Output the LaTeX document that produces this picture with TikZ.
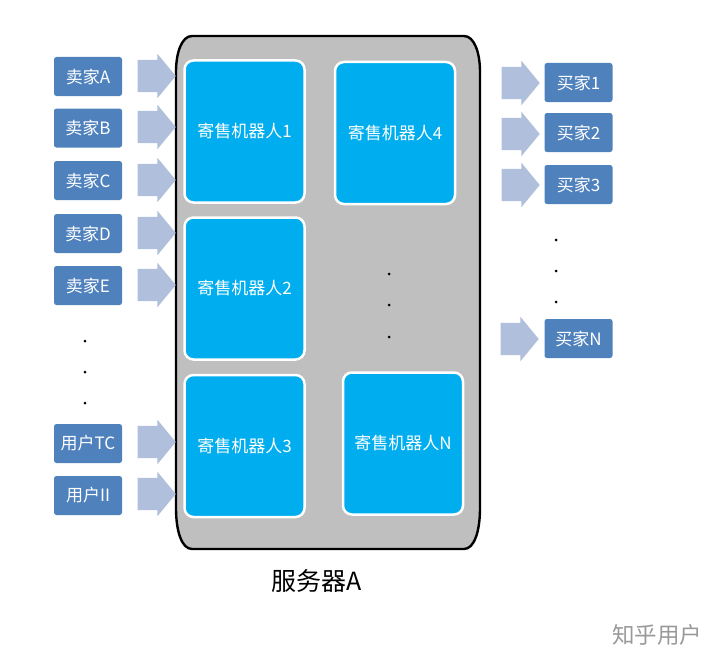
\documentclass[tikz,border=0pt]{standalone}
\usepackage{fontspec}
\setmainfont{Noto Sans CJK SC}[BoldFont={Noto Sans CJK SC}]
\usetikzlibrary{shapes.arrows}
\definecolor{userblue}{HTML}{4F81BD}
\definecolor{arrowblue}{HTML}{B0BFDB}
\definecolor{robotblue}{HTML}{00AEEF}
\definecolor{servergrey}{HTML}{BFBFBF}
\tikzset{
  x=1pt,y=-1pt,
  userbox/.style={draw=none,fill=userblue,rounded corners=2.5pt,minimum width=68pt,minimum height=39pt,inner sep=0pt,text=white,font=\fontsize{17}{20}\selectfont},
  blockarrow/.style={single arrow,draw=none,fill=arrowblue,minimum width=44pt,minimum height=38pt,inner xsep=0pt,inner ysep=16pt,single arrow head extend=6pt,single arrow tip angle=101,anchor=tip},
  robotbox/.style={draw=white,line width=2.5pt,fill=robotblue,rounded corners=9pt,minimum width=120pt,minimum height=142pt,inner sep=0pt,text=white,font=\fontsize{17}{20}\selectfont},
  dotnode/.style={circle,fill=black,inner sep=0pt,minimum size=3pt},
}
\begin{document}
\begin{tikzpicture}
\useasboundingbox (0,0) rectangle (720,661);
\draw[line width=2.4pt,fill=servergrey] (192,36) -- (464,36)
  .. controls (474,36) and (480,52) .. (480,72) -- (480,508)
  .. controls (480,532) and (474,549) .. (464,549) -- (192,549)
  .. controls (182,549) and (176,532) .. (176,508) -- (176,72)
  .. controls (176,52) and (182,36) .. (192,36) -- cycle;
\node[robotbox] (r1) at (244.5,131.5) {寄售机器人1};
\node[robotbox] (r2) at (244.5,288.5) {寄售机器人2};
\node[robotbox] (r3) at (244.5,446) {寄售机器人3};
\node[robotbox] (r4) at (395,133) {寄售机器人4};
\node[robotbox] (rn) at (403,443.5) {寄售机器人N};
\node[userbox] (sa) at (88,76.5) {卖家A};
\node[userbox] (sb) at (88,128) {卖家B};
\node[userbox] (sc) at (88,180.5) {卖家C};
\node[userbox] (sd) at (88,233.5) {卖家D};
\node[userbox] (se) at (88,285.5) {卖家E};
\node[userbox] (ut) at (88,443.5) {用户TC};
\node[userbox] (ui) at (88,495.5) {用户II};
\node[userbox] (b1) at (578.5,82.5) {买家1};
\node[userbox] (b2) at (578.5,132.5) {买家2};
\node[userbox] (b3) at (578.5,184.5) {买家3};
\node[userbox] (bn) at (578.5,338.5) {买家N};
\node[blockarrow] (a1) at (176,76) {};
\node[blockarrow] (a2) at (176,127) {};
\node[blockarrow] (a3) at (176,180) {};
\node[blockarrow] (a4) at (176,233) {};
\node[blockarrow] (a5) at (176,285) {};
\node[blockarrow] (a6) at (176,442) {};
\node[blockarrow] (a7) at (176,494) {};
\node[blockarrow] (a8) at (540,83) {};
\node[blockarrow] (a9) at (540,134) {};
\node[blockarrow] (a10) at (540,185) {};
\node[blockarrow] (a11) at (539,339) {};
\foreach \n/\px/\py in {d1/85/341,d2/85/372,d3/85/403,d4/389/274,d5/389/305,d6/389/337,d7/556/240,d8/556/271,d9/556/302}
  \node[dotnode] (\n) at (\px,\py) {};
\node[font=\fontsize{25}{29}\selectfont,text=black] (server) at (316.5,581) {服务器A};
\node[font=\fontsize{22.5}{26}\selectfont,text=black!40] (mark) at (657,635) {知乎用户};
\end{tikzpicture}
\end{document}
